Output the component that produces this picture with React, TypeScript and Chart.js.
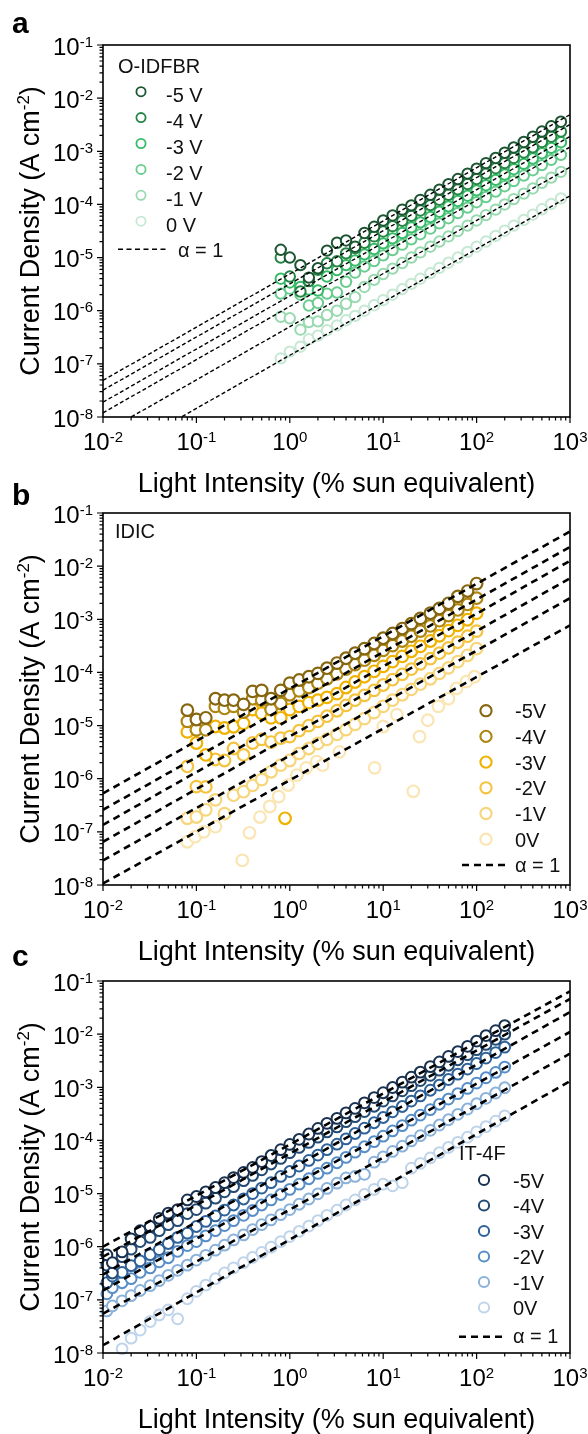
import { useEffect, useRef } from "react";
import { Chart, registerables } from "chart.js";

Chart.register(...registerables);

const FONT = '"Liberation Sans", Arial, Helvetica, sans-serif';
const X_TITLE = "Light Intensity (% sun equivalent)";
const Y_TITLE_MAIN = "Current Density (A cm";
const Y_TITLE_SUP = "-2";
const Y_TITLE_END = ")";
const X_TICK_POWERS = [-2, -1, 0, 1, 2, 3];
const Y_TICK_POWERS = [-8, -7, -6, -5, -4, -3, -2, -1];
const LINE_X = [0.01, 1000];
const ALPHA_LABEL = "α = 1";

// ---------- Panel a : O-IDFBR ----------
const xA = [0.8, 1.0, 1.3, 1.6, 2.0, 2.5, 3.2, 4.0, 5.0, 6.3, 8.0, 10, 12.6, 16, 20, 25, 32, 40, 50, 63, 80, 100, 126, 160, 200, 250, 320, 400, 500, 630, 800];
const aM5 = [1.4e-5, 1.0e-5, 7.2e-6, 4.2e-6, 6.3e-6, 1.35e-5, 1.9e-5, 2.1e-5, 1.6e-5, 2.9e-5, 3.8e-5, 5.0e-5, 6.2e-5, 8.0e-5, 9.6e-5, 1.22e-4, 1.52e-4, 1.9e-4, 2.4e-4, 3.0e-4, 3.8e-4, 4.7e-4, 6.0e-4, 7.5e-4, 9.4e-4, 1.18e-3, 1.5e-3, 1.88e-3, 2.35e-3, 2.95e-3, 3.6e-3];
const aM4 = [1.0e-5, 4.4e-6, 2.3e-6, 3.6e-6, 5.9e-6, 7.8e-6, 8.5e-6, 1.2e-5, 1.5e-5, 1.9e-5, 2.5e-5, 3.1e-5, 3.9e-5, 4.9e-5, 6.1e-5, 7.7e-5, 9.7e-5, 1.22e-4, 1.52e-4, 1.92e-4, 2.42e-4, 3.0e-4, 3.8e-4, 4.8e-4, 6.0e-4, 7.5e-4, 9.5e-4, 1.19e-3, 1.5e-3, 1.88e-3, 2.35e-3];
const aM3 = [4.0e-6, 3.4e-6, 2.8e-6, 2.5e-6, 2.4e-6, 4.4e-6, 5.8e-6, 7.2e-6, 8.8e-6, 1.15e-5, 1.45e-5, 1.85e-5, 2.3e-5, 2.9e-5, 3.7e-5, 4.6e-5, 5.8e-5, 7.3e-5, 9.2e-5, 1.16e-4, 1.46e-4, 1.84e-4, 2.3e-4, 2.9e-4, 3.65e-4, 4.6e-4, 5.8e-4, 7.3e-4, 9.2e-4, 1.16e-3, 1.48e-3];
const aM2 = [2.1e-6, 2.6e-6, 2.0e-6, 1.25e-6, 1.4e-6, 2.1e-6, 2.2e-6, 3.5e-6, 5.2e-6, 6.8e-6, 8.6e-6, 1.1e-5, 1.38e-5, 1.75e-5, 2.2e-5, 2.75e-5, 3.5e-5, 4.4e-5, 5.5e-5, 6.9e-5, 8.7e-5, 1.1e-4, 1.38e-4, 1.74e-4, 2.2e-4, 2.75e-4, 3.5e-4, 4.4e-4, 5.5e-4, 6.9e-4, 8.6e-4];
const aM1 = [7.7e-7, 7.2e-7, 4.4e-7, 6.1e-7, 6.3e-7, 8.3e-7, 1.0e-6, 1.35e-6, 1.8e-6, 2.8e-6, 3.8e-6, 4.9e-6, 6.2e-6, 7.9e-6, 1.0e-5, 1.25e-5, 1.6e-5, 2.0e-5, 2.5e-5, 3.15e-5, 4.0e-5, 5.0e-5, 6.3e-5, 8.0e-5, 1.0e-4, 1.26e-4, 1.6e-4, 2.0e-4, 2.55e-4, 3.2e-4, 4.1e-4];
const a0 = [1.27e-7, 1.7e-7, 2.1e-7, 2.9e-7, 3.4e-7, 4.3e-7, 5.3e-7, 6.6e-7, 8.0e-7, 1.0e-6, 1.27e-6, 1.58e-6, 2.0e-6, 2.55e-6, 3.2e-6, 4.0e-6, 5.1e-6, 6.4e-6, 8.0e-6, 1.0e-5, 1.28e-5, 1.6e-5, 2.0e-5, 2.56e-5, 3.2e-5, 4.0e-5, 5.1e-5, 6.4e-5, 8.1e-5, 1.02e-4, 1.3e-4];
const aLineLo = [4.9e-8, 3.2e-8, 1.9e-8, 1.2e-8, 5.0e-9, 1.45e-9];
const aLineHi = [4.9e-3, 3.2e-3, 1.9e-3, 1.2e-3, 5.0e-4, 1.45e-4];
const GREENS = ["#1b5531", "#278546", "#37bb68", "#68cc8e", "#98d9b0", "#c6e8d4"];
const LABELS_A = ["-5 V", "-4 V", "-3 V", "-2 V", "-1 V", "0 V"];

// ---------- Panel b : IDIC ----------
const xB = [0.08, 0.1, 0.126, 0.16, 0.2, 0.25, 0.32, 0.4, 0.5, 0.63, 0.8, 1.0, 1.26, 1.6, 2.0, 2.5, 3.2, 4.0, 5.0, 6.3, 8.0, 10, 12.6, 16, 20, 25, 32, 40, 50, 63, 80, 100];
const bM5 = [1.95e-5, 1.3e-5, 1.4e-5, 3.2e-5, 3.0e-5, 3.0e-5, 2.5e-5, 4.4e-5, 4.6e-5, 3.2e-5, 4.6e-5, 6.3e-5, 7.2e-5, 8.3e-5, 9.6e-5, 1.2e-4, 1.5e-4, 1.85e-4, 2.3e-4, 2.8e-4, 3.5e-4, 4.4e-4, 5.4e-4, 6.7e-4, 8.3e-4, 1.04e-3, 1.3e-3, 1.6e-3, 2.0e-3, 2.7e-3, 3.4e-3, 4.7e-3];
const bM4 = [1.2e-5, 8.3e-6, 8.3e-6, 2.3e-5, 2.1e-5, 2.3e-5, 1.8e-5, 3.2e-5, 3.0e-5, 2.0e-5, 2.6e-5, 3.8e-5, 4.5e-5, 5.2e-5, 6.3e-5, 7.6e-5, 9.4e-5, 1.15e-4, 1.4e-4, 1.7e-4, 2.1e-4, 2.6e-4, 3.2e-4, 3.9e-4, 4.8e-4, 6.0e-4, 7.5e-4, 9.4e-4, 1.17e-3, 1.5e-3, 1.9e-3, 2.5e-3];
const bM3 = [7.6e-6, 4.7e-6, 2.8e-6, 9.6e-6, 9.0e-6, 9.5e-6, 1.1e-5, 2.0e-5, 1.7e-5, 1.4e-5, 1.4e-5, 2.0e-5, 2.3e-5, 2.7e-5, 3.0e-5, 3.4e-5, 4.0e-5, 5.2e-5, 6.6e-5, 8.3e-5, 1.05e-4, 1.3e-4, 1.6e-4, 2.0e-4, 2.5e-4, 3.1e-4, 3.9e-4, 4.9e-4, 6.1e-4, 7.7e-4, 9.8e-4, 1.3e-3];
const bM3OutX = [0.89];
const bM3OutY = [1.8e-7];
const bM2 = [1.7e-6, 7.1e-7, 7.0e-7, 2.3e-6, 2.2e-6, 3.7e-6, 2.8e-6, 4.7e-6, 5.5e-6, 4.9e-6, 5.8e-6, 6.2e-6, 8.0e-6, 1.0e-5, 1.2e-5, 1.5e-5, 1.9e-5, 2.4e-5, 3.0e-5, 3.7e-5, 4.6e-5, 5.8e-5, 7.3e-5, 9.2e-5, 1.15e-4, 1.45e-4, 1.82e-4, 2.3e-4, 2.9e-4, 3.7e-4, 4.8e-4, 6.0e-4];
const bM1 = [1.8e-7, 1.9e-7, 2.6e-7, 4.0e-7, 2.2e-7, 4.9e-7, 5.7e-7, 7.5e-7, 9.6e-7, 1.35e-6, 1.8e-6, 2.2e-6, 3.0e-6, 3.7e-6, 4.6e-6, 5.5e-6, 6.8e-6, 8.4e-6, 1.05e-5, 1.35e-5, 1.75e-5, 2.3e-5, 3.0e-5, 3.8e-5, 4.8e-5, 6.0e-5, 7.6e-5, 9.6e-5, 1.22e-4, 1.6e-4, 2.1e-4, 2.8e-4];
const xB0 = [0.08, 0.097, 0.12, 0.16, 0.31, 0.37, 0.48, 0.61, 0.76, 0.96, 1.19, 1.5, 1.94, 2.25, 3.4, 8.1, 10, 14, 21, 24.5, 30, 39, 50, 61, 78, 95];
const b0 = [6.5e-8, 8.1e-8, 1.0e-7, 1.25e-7, 2.9e-8, 9.6e-8, 1.9e-7, 3.0e-7, 4.6e-7, 7.6e-7, 1.17e-6, 1.6e-6, 2.1e-6, 1.8e-6, 3.2e-6, 1.6e-6, 9.6e-6, 1.6e-5, 5.8e-7, 6.2e-6, 1.26e-5, 2.3e-5, 3.2e-5, 5.0e-5, 6.7e-5, 8.3e-5];
const bLineLo = [5.3e-7, 2.6e-7, 1.35e-7, 6.5e-8, 2.9e-8, 1.07e-8];
const bLineHi = [4.5e-2, 2.3e-2, 1.26e-2, 5.9e-3, 2.5e-3, 7.7e-4];
const GOLDS = ["#86660f", "#ad8712", "#f0b200", "#f4c33f", "#f7d67b", "#fae5b3"];
const LABELS_BC = ["-5V", "-4V", "-3V", "-2V", "-1V", "0V"];

// ---------- Panel c : IT-4F ----------
const xC = [0.011, 0.0126, 0.016, 0.02, 0.025, 0.032, 0.04, 0.05, 0.063, 0.08, 0.1, 0.126, 0.16, 0.2, 0.25, 0.32, 0.4, 0.5, 0.63, 0.8, 1.0, 1.26, 1.6, 2.0, 2.5, 3.2, 4.0, 5.0, 6.3, 8.0, 10, 12.6, 16, 20, 25, 32, 40, 50, 63, 80, 100, 126, 160, 200];
const cM5 = [7.0e-7, 5.0e-7, 8.0e-7, 1.4e-6, 2.0e-6, 2.4e-6, 3.4e-6, 4.3e-6, 5.0e-6, 7.6e-6, 8.8e-6, 1.08e-5, 1.3e-5, 1.6e-5, 2.0e-5, 2.5e-5, 3.1e-5, 4.0e-5, 5.2e-5, 6.7e-5, 8.4e-5, 1.05e-4, 1.32e-4, 1.68e-4, 2.1e-4, 2.6e-4, 3.3e-4, 4.0e-4, 5.1e-4, 6.4e-4, 7.9e-4, 9.9e-4, 1.25e-3, 1.55e-3, 1.93e-3, 2.45e-3, 3.0e-3, 3.8e-3, 4.7e-3, 5.9e-3, 7.4e-3, 9.4e-3, 1.16e-2, 1.45e-2];
const cM4 = [4.5e-7, 3.2e-7, 6.5e-7, 9.0e-7, 1.25e-6, 1.5e-6, 2.0e-6, 2.6e-6, 3.1e-6, 4.2e-6, 5.0e-6, 6.6e-6, 8.2e-6, 1.08e-5, 1.35e-5, 1.75e-5, 2.2e-5, 2.8e-5, 3.6e-5, 4.6e-5, 5.9e-5, 7.4e-5, 9.2e-5, 1.15e-4, 1.45e-4, 1.8e-4, 2.25e-4, 2.8e-4, 3.5e-4, 4.4e-4, 5.5e-4, 6.9e-4, 8.6e-4, 1.07e-3, 1.34e-3, 1.68e-3, 2.1e-3, 2.6e-3, 3.3e-3, 4.1e-3, 5.1e-3, 6.4e-3, 8.0e-3, 1.0e-2];
const cM3 = [2.1e-7, 2.8e-7, 3.3e-7, 4.4e-7, 5.4e-7, 7.1e-7, 8.8e-7, 1.15e-6, 1.5e-6, 1.8e-6, 2.4e-6, 3.0e-6, 3.8e-6, 4.9e-6, 6.1e-6, 7.9e-6, 1.0e-5, 1.27e-5, 1.6e-5, 2.1e-5, 2.6e-5, 3.3e-5, 4.2e-5, 5.3e-5, 6.7e-5, 8.5e-5, 1.07e-4, 1.35e-4, 1.7e-4, 2.15e-4, 2.7e-4, 3.45e-4, 4.35e-4, 5.5e-4, 6.9e-4, 8.8e-4, 1.1e-3, 1.4e-3, 1.77e-3, 2.2e-3, 2.8e-3, 3.55e-3, 4.5e-3, 5.7e-3];
const cM2 = [1.3e-7, 1.7e-7, 2.1e-7, 2.5e-7, 3.3e-7, 4.0e-7, 5.2e-7, 6.2e-7, 8.2e-7, 1.05e-6, 1.25e-6, 1.6e-6, 2.0e-6, 2.5e-6, 3.1e-6, 3.9e-6, 4.8e-6, 6.1e-6, 7.6e-6, 9.6e-6, 1.2e-5, 1.5e-5, 1.9e-5, 2.4e-5, 3.0e-5, 3.8e-5, 4.8e-5, 6.0e-5, 7.6e-5, 9.5e-5, 1.2e-4, 1.51e-4, 1.9e-4, 2.4e-4, 3.0e-4, 3.8e-4, 4.8e-4, 6.0e-4, 7.6e-4, 9.5e-4, 1.2e-3, 1.51e-3, 1.9e-3, 2.4e-3];
const cM1 = [6.2e-8, 7.7e-8, 9.6e-8, 1.2e-7, 1.5e-7, 1.85e-7, 2.3e-7, 2.9e-7, 3.6e-7, 4.5e-7, 5.6e-7, 6.9e-7, 8.6e-7, 1.07e-6, 1.34e-6, 1.67e-6, 2.1e-6, 2.6e-6, 3.2e-6, 4.0e-6, 5.0e-6, 6.3e-6, 7.9e-6, 9.9e-6, 1.25e-5, 1.57e-5, 1.97e-5, 2.1e-5, 2.3e-5, 3.9e-5, 4.9e-5, 6.2e-5, 7.8e-5, 9.8e-5, 1.23e-4, 1.55e-4, 1.95e-4, 2.45e-4, 3.1e-4, 3.9e-4, 4.9e-4, 6.2e-4, 7.8e-4, 9.8e-4];
const c0 = [null, null, 1.2e-8, 1.9e-8, 2.7e-8, 3.9e-8, 5.2e-8, 6.5e-8, 4.4e-8, 1.05e-7, 1.45e-7, 1.9e-7, 2.5e-7, 3.2e-7, 4.0e-7, 5.0e-7, 6.3e-7, 7.8e-7, 9.8e-7, 1.25e-6, 1.55e-6, 1.95e-6, 2.45e-6, 3.1e-6, 3.9e-6, 4.85e-6, 6.1e-6, 7.6e-6, 9.6e-6, 1.2e-5, 1.5e-5, 1.4e-5, 1.6e-5, 3.0e-5, 3.7e-5, 4.7e-5, 5.9e-5, 7.4e-5, 9.2e-5, 1.15e-4, 1.45e-4, 1.82e-4, 2.3e-4, 2.9e-4];
const cLineLo = [1.0e-6, 6.5e-7, 3.0e-7, 1.5e-7, 5.5e-8, 1.4e-8];
const cLineHi = [6.4e-2, 4.6e-2, 2.6e-2, 1.1e-2, 4.3e-3, 1.3e-3];
const BLUES = ["#1a3250", "#234a72", "#2f6299", "#588ec7", "#8bb2db", "#bfd4ea"];

type Series = { label: string; color: string; xs: number[]; ys: (number | null)[] };
type LegendCfg = {
  name: string; nameX: number; nameY: number;
  cx: number; cy0: number; step: number; r: number; bw: number;
  labelX: number; labelDy: number;
  dashX0: number; dashX1: number; dashY: number; dashW: number; dash: number[];
  alphaX: number; alphaY: number;
};
type PanelCfg = {
  letter: string; letterY: number; top: number; height: number;
  series: Series[]; labels: string[];
  lineLo: number[]; lineHi: number[];
  pointR: number; pointBW: number; lineW: number; dash: number[];
  legend: LegendCfg;
};

const mk = (labels: string[], colors: string[], xs: number[][], ys: (number | null)[][]): Series[] =>
  labels.map((l, i) => ({ label: l, color: colors[i], xs: xs[i], ys: ys[i] }));

const PANELS: PanelCfg[] = [
  {
    letter: "a", letterY: 33, top: 0, height: 500,
    series: mk(LABELS_A, GREENS, [xA, xA, xA, xA, xA, xA], [aM5, aM4, aM3, aM2, aM1, a0]),
    labels: LABELS_A, lineLo: aLineLo, lineHi: aLineHi,
    pointR: 5.2, pointBW: 2, lineW: 1.4, dash: [4, 2.5],
    legend: {
      name: "O-IDFBR", nameX: 118, nameY: 73,
      cx: 141, cy0: 91.7, step: 25.9, r: 4.6, bw: 1.8, labelX: 166, labelDy: 10.5,
      dashX0: 118, dashX1: 166, dashY: 249.3, dashW: 1.4, dash: [5, 3.5], alphaX: 178, alphaY: 257,
    },
  },
  {
    letter: "b", letterY: 37, top: 468, height: 500,
    series: mk(LABELS_BC, GOLDS, [xB, xB, xB, xB, xB, xB0], [bM5, bM4, bM3, bM2, bM1, b0]),
    labels: LABELS_BC, lineLo: bLineLo, lineHi: bLineHi,
    pointR: 5.8, pointBW: 2.2, lineW: 2.6, dash: [7, 5],
    legend: {
      name: "IDIC", nameX: 115, nameY: 70,
      cx: 486, cy0: 242.7, step: 25.7, r: 5.6, bw: 2.1, labelX: 515, labelDy: 7.6,
      dashX0: 462, dashX1: 505, dashY: 397, dashW: 2.6, dash: [7, 5], alphaX: 515, alphaY: 403.7,
    },
  },
  {
    letter: "c", letterY: 30, top: 936, height: 498,
    series: mk(LABELS_BC, BLUES, [xC, xC, xC, xC, xC, xC], [cM5, cM4, cM3, cM2, cM1, c0]),
    labels: LABELS_BC, lineLo: cLineLo, lineHi: cLineHi,
    pointR: 5.4, pointBW: 2, lineW: 2.6, dash: [7, 5],
    legend: {
      name: "IT-4F", nameX: 459, nameY: 224,
      cx: 484, cy0: 244, step: 25.5, r: 5.1, bw: 2, labelX: 513, labelDy: 7.5,
      dashX0: 459, dashX1: 503, dashY: 400.7, dashW: 2.6, dash: [7, 5], alphaX: 513, alphaY: 407,
    },
  },
];

function drawPow(ctx: CanvasRenderingContext2D, exp: number, x: number, baseline: number, align: "center" | "right") {
  ctx.font = `24px ${FONT}`;
  const wb = ctx.measureText("10").width;
  ctx.font = `15px ${FONT}`;
  const sup = String(exp);
  const ws = ctx.measureText(sup).width;
  const total = wb + ws;
  const x0 = align === "center" ? x - total / 2 : x - total;
  ctx.font = `24px ${FONT}`;
  ctx.fillText("10", x0, baseline);
  ctx.font = `15px ${FONT}`;
  ctx.fillText(sup, x0 + wb, baseline - 8);
}

function makeDecor(cfg: PanelCfg) {
  return {
    id: "decor",
    afterDraw(chart: any) {
      const ctx: CanvasRenderingContext2D = chart.ctx;
      const ca = chart.chartArea;
      const xs = chart.scales.x;
      const ys = chart.scales.y;
      ctx.save();
      ctx.fillStyle = "#000";
      ctx.strokeStyle = "#000";
      ctx.textAlign = "left";
      ctx.textBaseline = "alphabetic";

      // ticks
      ctx.lineWidth = 1.2;
      ctx.beginPath();
      for (let e = X_TICK_POWERS[0]; e <= X_TICK_POWERS[X_TICK_POWERS.length - 1]; e++) {
        for (let m = 1; m <= 9; m++) {
          const v = m * Math.pow(10, e);
          if (v > 1000 * 1.0001) break;
          const px = xs.getPixelForValue(v);
          const len = m === 1 ? 6 : 3.5;
          ctx.moveTo(px, ca.bottom);
          ctx.lineTo(px, ca.bottom + len);
        }
      }
      for (let e = Y_TICK_POWERS[0]; e <= Y_TICK_POWERS[Y_TICK_POWERS.length - 1]; e++) {
        for (let m = 1; m <= 9; m++) {
          const v = m * Math.pow(10, e);
          if (v > 0.1 * 1.0001) break;
          const py = ys.getPixelForValue(v);
          const len = m === 1 ? 6 : 3.5;
          ctx.moveTo(ca.left, py);
          ctx.lineTo(ca.left - len, py);
        }
      }
      ctx.stroke();

      // frame
      ctx.lineWidth = 1.6;
      ctx.strokeRect(ca.left, ca.top, ca.right - ca.left, ca.bottom - ca.top);

      // tick labels
      X_TICK_POWERS.forEach((p) => drawPow(ctx, p, xs.getPixelForValue(Math.pow(10, p)), 450, "center"));
      Y_TICK_POWERS.forEach((p) => drawPow(ctx, p, 93, ys.getPixelForValue(Math.pow(10, p)) + 9.5, "right"));

      // x title
      ctx.font = `27px ${FONT}`;
      ctx.textAlign = "center";
      ctx.fillText(X_TITLE, (ca.left + ca.right) / 2, 492);
      ctx.textAlign = "left";

      // y title
      ctx.save();
      ctx.translate(39, (ca.top + ca.bottom) / 2);
      ctx.rotate(-Math.PI / 2);
      ctx.font = `27px ${FONT}`;
      const w1 = ctx.measureText(Y_TITLE_MAIN).width;
      const w3 = ctx.measureText(Y_TITLE_END).width;
      ctx.font = `17px ${FONT}`;
      const w2 = ctx.measureText(Y_TITLE_SUP).width;
      let tx = -(w1 + w2 + w3) / 2;
      ctx.font = `27px ${FONT}`;
      ctx.fillText(Y_TITLE_MAIN, tx, 0);
      tx += w1;
      ctx.font = `17px ${FONT}`;
      ctx.fillText(Y_TITLE_SUP, tx, -10);
      tx += w2;
      ctx.font = `27px ${FONT}`;
      ctx.fillText(Y_TITLE_END, tx, 0);
      ctx.restore();

      // panel letter
      ctx.font = `bold 30px ${FONT}`;
      ctx.fillText(cfg.letter, 12, cfg.letterY);

      // legend
      const lg = cfg.legend;
      ctx.font = `20px ${FONT}`;
      ctx.fillStyle = "#111";
      ctx.fillText(lg.name, lg.nameX, lg.nameY);
      cfg.series.forEach((s, i) => {
        const cy = lg.cy0 + i * lg.step;
        ctx.beginPath();
        ctx.arc(lg.cx, cy, lg.r, 0, Math.PI * 2);
        ctx.fillStyle = "#fff";
        ctx.fill();
        ctx.lineWidth = lg.bw;
        ctx.strokeStyle = s.color;
        ctx.stroke();
        ctx.fillStyle = "#111";
        ctx.fillText(cfg.labels[i], lg.labelX, cy + lg.labelDy);
      });
      ctx.beginPath();
      ctx.setLineDash(lg.dash);
      ctx.lineWidth = lg.dashW;
      ctx.strokeStyle = "#000";
      ctx.moveTo(lg.dashX0, lg.dashY);
      ctx.lineTo(lg.dashX1, lg.dashY);
      ctx.stroke();
      ctx.setLineDash([]);
      ctx.fillStyle = "#111";
      ctx.fillText(ALPHA_LABEL, lg.alphaX, lg.alphaY);
      ctx.restore();
    },
  };
}

function Panel({ cfg }: { cfg: PanelCfg }) {
  const ref = useRef<HTMLCanvasElement | null>(null);
  useEffect(() => {
    if (!ref.current) return;
    const lineSets = cfg.lineLo.map((lo, i) => ({
      type: "line" as const,
      data: [
        { x: LINE_X[0], y: lo },
        { x: LINE_X[1], y: cfg.lineHi[i] },
      ],
      showLine: true,
      borderColor: "#000",
      borderWidth: cfg.lineW,
      borderDash: cfg.dash,
      borderCapStyle: "butt" as const,
      pointRadius: 0,
      fill: false,
      order: 0,
    }));
    const pointSets = cfg.series.map((s) => ({
      type: "scatter" as const,
      label: s.label,
      data: s.xs
        .map((x, i) => (s.ys[i] == null ? null : { x, y: s.ys[i] as number }))
        .filter((p) => p !== null) as { x: number; y: number }[],
      showLine: false,
      pointRadius: cfg.pointR,
      pointHoverRadius: cfg.pointR,
      pointBorderWidth: cfg.pointBW,
      pointBorderColor: s.color,
      pointBackgroundColor: "#ffffff",
      clip: false as any,
      order: 1,
    }));
    if (cfg.letter === "b") {
      pointSets.push({
        ...pointSets[2],
        label: "-3V extra",
        data: bM3OutX.map((x, i) => ({ x, y: bM3OutY[i] })),
      });
    }
    const chart = new Chart(ref.current, {
      type: "scatter",
      data: { datasets: [...lineSets, ...pointSets] as any },
      options: {
        animation: false,
        responsive: false,
        devicePixelRatio: 1,
        events: [],
        layout: { padding: { top: 45, right: 18, left: 0, bottom: 0 } },
        plugins: { legend: { display: false }, tooltip: { enabled: false } },
        scales: {
          x: {
            type: "logarithmic",
            min: 0.01,
            max: 1000,
            ticks: { display: false },
            grid: { display: false },
            border: { display: false },
            afterFit: (s: any) => {
              s.height = cfg.height - 417;
            },
          },
          y: {
            type: "logarithmic",
            min: 1e-8,
            max: 0.1,
            ticks: { display: false },
            grid: { display: false },
            border: { display: false },
            afterFit: (s: any) => {
              s.width = 103;
            },
          },
        },
      },
      plugins: [makeDecor(cfg)],
    });
    return () => chart.destroy();
  }, [cfg]);
  return (
    <canvas
      ref={ref}
      width={588}
      height={cfg.height}
      style={{ position: "absolute", left: 0, top: cfg.top, width: 588, height: cfg.height }}
    />
  );
}

export default function App() {
  return (
    <div style={{ position: "relative", width: 588, height: 1434, background: "#fff" }}>
      <style>{"body{margin:0;background:#fff}"}</style>
      {PANELS.map((p) => (
        <Panel key={p.letter} cfg={p} />
      ))}
    </div>
  );
}
